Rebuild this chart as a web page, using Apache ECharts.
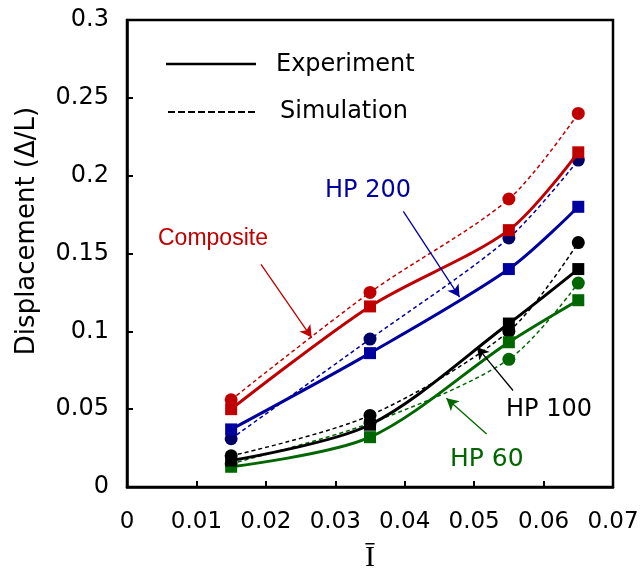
<!DOCTYPE html>
<html>
<head>
<meta charset="utf-8">
<script src="https://cdn.jsdelivr.net/npm/echarts@6/dist/echarts.min.js"></script>
<style>
html,body{margin:0;padding:0;background:#fff;}
#chart{width:642px;height:571px;}
</style>
</head>
<body>
<div id="chart"></div>
<script>
// ---- data ----
var xVals = [0.015, 0.035, 0.055, 0.065];
var compositeExp = [0.050, 0.116, 0.165, 0.215];
var compositeSim = [0.056, 0.125, 0.185, 0.240];
var hp200Exp = [0.037, 0.086, 0.140, 0.180];
var hp200Sim = [0.031, 0.095, 0.160, 0.210];
var hp100Exp = [0.017, 0.040, 0.105, 0.140];
var hp100Sim = [0.020, 0.046, 0.100, 0.157];
var hp60Exp = [0.013, 0.032, 0.093, 0.120];
var hp60Sim = [0.015, 0.041, 0.082, 0.131];
var xTicks = [0, 0.01, 0.02, 0.03, 0.04, 0.05, 0.06, 0.07];
var yTicks = [0, 0.05, 0.1, 0.15, 0.2, 0.25, 0.3];
var legendLabels = ['Experiment', 'Simulation'];
var annotationLabels = ['Composite', 'HP 200', 'HP 100', 'HP 60'];

function pts(ys){ return xVals.map(function(x,i){ return [x, ys[i]]; }); }

var FONT = 'DejaVu Sans';
var RED = '#C00000', BLUE = '#0000A0', NAVY = '#000066', GREEN = '#006600', BLACK = '#000000';

function simSeries(name, ys, lineColor, markColor){
  return {
    name: name, type: 'line', data: pts(ys), smooth: 0.3,
    symbol: 'circle', symbolSize: 13,
    itemStyle: {color: markColor},
    lineStyle: {color: lineColor, width: 1.5, type: [4,3]},
    z: 2
  };
}
function expSeries(name, ys, color){
  return {
    name: name, type: 'line', data: pts(ys), smooth: 0.3,
    symbol: 'rect', symbolSize: 12,
    itemStyle: {color: color},
    lineStyle: {color: color, width: 3, type: 'solid'},
    z: 3
  };
}
function arrow(from, to, color){
  return [{coord: from, lineStyle:{color: color}}, {coord: to}];
}

var chart = echarts.init(document.getElementById('chart'), null, {renderer: 'canvas'});
var option = {
  animation: false,
  backgroundColor: '#fff',
  grid: {left: 127, right: 29, top: 20, bottom: 84, containLabel: false, outerBoundsMode: 'none',
         show: true, borderColor: '#000', borderWidth: 2.5, backgroundColor: 'transparent'},
  xAxis: {
    type: 'value', min: xTicks[0], max: xTicks[xTicks.length-1], interval: 0.01,
    axisLine: {show: true, onZero: false, lineStyle: {color: '#000', width: 2.5}},
    axisTick: {show: true, inside: true, length: 6, lineStyle: {color: '#000', width: 2}},
    axisLabel: {color: '#000', fontFamily: FONT, fontSize: 23, margin: 24},
    splitLine: {show: false},
    name: '\u012A', nameLocation: 'middle', nameGap: 56,
    nameTextStyle: {fontFamily: 'Liberation Serif', fontSize: 30, color: '#000'}
  },
  yAxis: {
    type: 'value', min: yTicks[0], max: yTicks[yTicks.length-1], interval: 0.05,
    axisLine: {show: true, onZero: false, lineStyle: {color: '#000', width: 2.5}},
    axisTick: {show: true, inside: true, length: 6, lineStyle: {color: '#000', width: 2}},
    axisLabel: {color: '#000', fontFamily: FONT, fontSize: 24, margin: 18, padding: [4,0,0,0]},
    splitLine: {show: false}
  },
  series: [
    simSeries('HP 60 sim', hp60Sim, GREEN, GREEN),
    simSeries('HP 100 sim', hp100Sim, BLACK, BLACK),
    simSeries('HP 200 sim', hp200Sim, BLUE, NAVY),
    simSeries('Composite sim', compositeSim, RED, RED),
    expSeries('HP 60 exp', hp60Exp, GREEN),
    expSeries('HP 100 exp', hp100Exp, BLACK),
    expSeries('HP 200 exp', hp200Exp, BLUE),
    (function(){
      var s = expSeries('Composite exp', compositeExp, RED);
      s.markLine = {
        silent: true, animation: false,
        symbol: ['none', 'arrow'], symbolSize: [10, 12],
        label: {show: false},
        lineStyle: {type: 'solid', width: 1.3},
        data: [
          arrow([0.0193, 0.143], [0.0266, 0.096], RED),
          arrow([0.0398, 0.177], [0.0479, 0.122], BLUE),
          arrow([0.0556, 0.062], [0.0504, 0.090], BLACK),
          arrow([0.0518, 0.034], [0.0460, 0.057], GREEN)
        ]
      };
      return s;
    })()
  ],
  graphic: [
    {type: 'line', shape: {x1: 166, y1: 64, x2: 256, y2: 64}, style: {stroke: '#000', lineWidth: 2.5}},
    {type: 'line', shape: {x1: 168, y1: 112, x2: 256, y2: 112}, style: {stroke: '#000', lineWidth: 2, lineDash: [7,3]}},
    {type: 'text', left: 276, top: 53, style: {text: legendLabels[0], fontFamily: FONT, fontSize: 24, fill: '#000'}},
    {type: 'text', left: 280, top: 100, style: {text: legendLabels[1], fontFamily: FONT, fontSize: 24, fill: '#000'}},
    {type: 'text', left: 158, top: 227, style: {text: annotationLabels[0], fontFamily: 'Liberation Sans', fontSize: 23, fill: RED}},
    {type: 'text', left: 325, top: 179, style: {text: annotationLabels[1], fontFamily: FONT, fontSize: 24, fill: BLUE}},
    {type: 'text', left: 506, top: 398, style: {text: annotationLabels[2], fontFamily: FONT, fontSize: 24, fill: BLACK}},
    {type: 'text', left: 450, top: 447, style: {text: annotationLabels[3], fontFamily: FONT, fontSize: 25, fill: GREEN}},
    {type: 'text', x: 27, y: 231, rotation: Math.PI/2,
     style: {text: 'Displacement (\u0394/L)', fontFamily: FONT, fontSize: 26, fill: '#000', align: 'center', verticalAlign: 'middle'}}
  ]
};
chart.setOption(option);
</script>
</body>
</html>
